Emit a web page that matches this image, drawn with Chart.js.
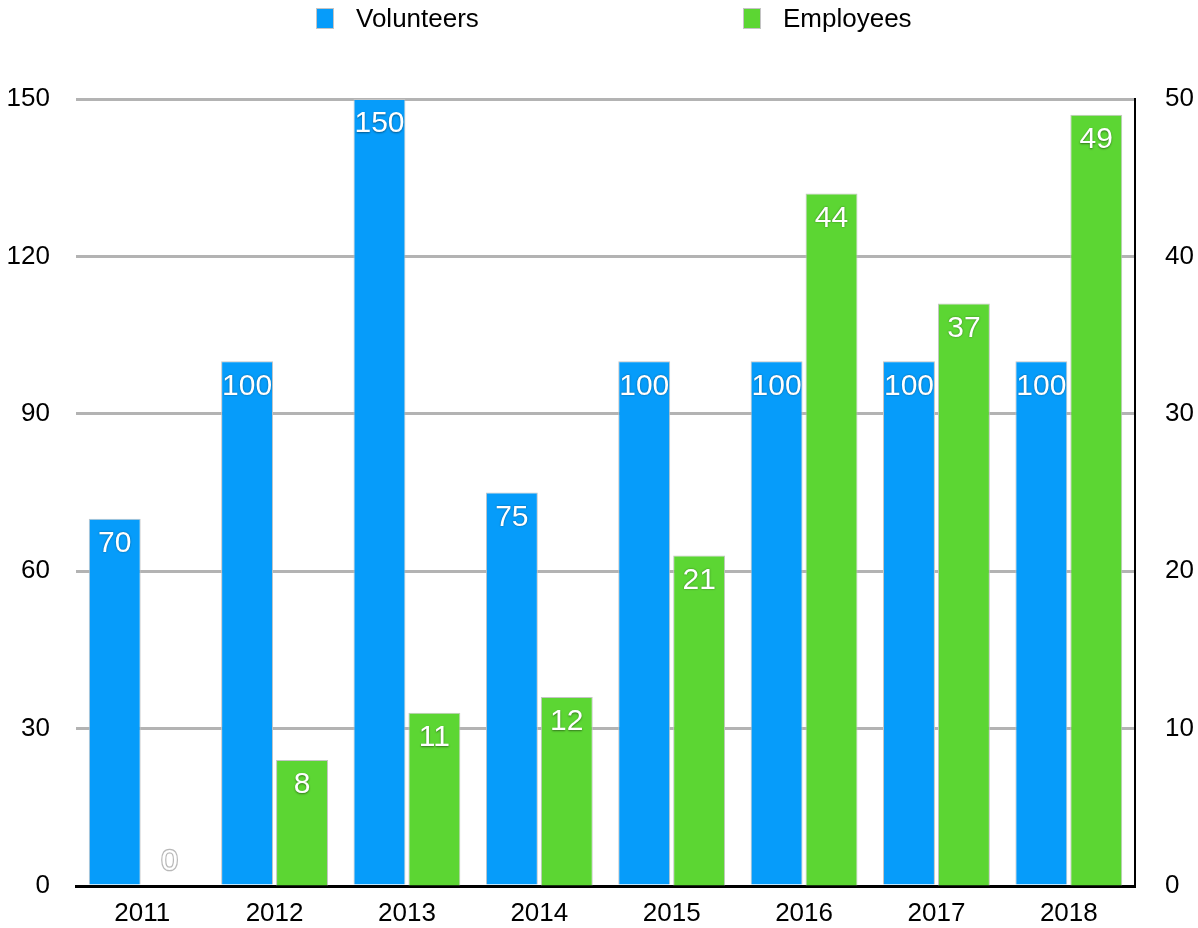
<!DOCTYPE html>
<html lang="en">
<head>
  <meta charset="UTF-8">
  <title>Volunteers and Employees</title>
  <style>
    body {
      margin: 0;
      background-color: #ffffff;
    }
    .wrap {
      width: 1198px;
      height: 928px;
    }
  </style>
</head>
<body>
  <div class="wrap">
    <canvas id="chartCanvas"></canvas>
  </div>

  <script src="https://cdn.jsdelivr.net/npm/chart.js"></script>
  <script>
    const years = ['2011', '2012', '2013', '2014', '2015', '2016', '2017', '2018'];
    const volunteers = [70, 100, 150, 75, 100, 100, 100, 100];
    const employees = [0, 8, 11, 12, 21, 44, 37, 49];
    const leftTicks = [0, 30, 60, 90, 120, 150];
    const rightTicks = [0, 10, 20, 30, 40, 50];

    const FONT = "'Liberation Sans', Helvetica, Arial, sans-serif";
    const BLUE = '#069cfa';
    const GREEN = '#5cd633';

    // white value labels inside the top of each bar
    const valueLabels = {
      id: 'valueLabels',
      afterDatasetsDraw(chart) {
        const ctx = chart.ctx;
        ctx.save();
        ctx.font = '30px ' + FONT;
        ctx.textAlign = 'center';
        ctx.textBaseline = 'middle';
        chart.data.datasets.forEach((ds, i) => {
          chart.getDatasetMeta(i).data.forEach((bar, j) => {
            const v = ds.data[j];
            if (v > 0) {
              ctx.shadowColor = 'rgba(0,0,0,0.45)';
              ctx.shadowBlur = 2;
              ctx.shadowOffsetY = 0.5;
              ctx.fillStyle = '#ffffff';
              ctx.fillText(String(v), bar.x, bar.y + 25);
            } else {
              ctx.shadowColor = 'transparent';
              ctx.lineWidth = 2.5;
              ctx.strokeStyle = '#b8b8b8';
              ctx.strokeText(String(v), bar.x, bar.base - 24);
              ctx.fillStyle = '#ffffff';
              ctx.fillText(String(v), bar.x, bar.base - 24);
            }
          });
        });
        ctx.restore();
      }
    };

    // legend with wide spacing between the two entries
    const spreadLegend = {
      id: 'spreadLegend',
      afterDraw(chart) {
        const ctx = chart.ctx;
        const area = chart.chartArea;
        const mid = (area.left + area.right) / 2;
        const offsets = [-290, 137];
        ctx.save();
        ctx.font = '26px ' + FONT;
        ctx.textBaseline = 'middle';
        ctx.textAlign = 'left';
        chart.data.datasets.forEach((ds, i) => {
          const x = Math.round(mid + offsets[i]);
          ctx.fillStyle = ds.backgroundColor;
          ctx.fillRect(x, 8, 18, 21);
          ctx.strokeStyle = '#c4c4c4';
          ctx.lineWidth = 1;
          ctx.strokeRect(x + 0.5, 8.5, 17, 20);
          ctx.fillStyle = '#000000';
          ctx.fillText(ds.label, x + 40, 20);
        });
        ctx.restore();
      }
    };

    // fixed side widths; drop the label half-height padding at top/bottom
    function fixSide(width) {
      return axis => {
        axis.width = width;
        axis.paddingTop = 0;
        axis.paddingBottom = 0;
      };
    }

    const ctx = document.getElementById('chartCanvas').getContext('2d');
    new Chart(ctx, {
      type: 'bar',
      data: {
        labels: years,
        datasets: [
          {
            label: 'Volunteers',
            data: volunteers,
            yAxisID: 'y',
            backgroundColor: BLUE,
            borderColor: '#c4c4c4',
            borderWidth: 1
          },
          {
            label: 'Employees',
            data: employees,
            yAxisID: 'y1',
            backgroundColor: GREEN,
            borderColor: '#c4c4c4',
            borderWidth: 1
          }
        ]
      },
      options: {
        responsive: true,
        maintainAspectRatio: false,
        animation: false,
        categoryPercentage: 0.83,
        barPercentage: 0.945,
        layout: {
          padding: { top: 99, left: 0, right: 0, bottom: 0 }
        },
        plugins: {
          legend: { display: false },
          tooltip: { enabled: false }
        },
        scales: {
          x: {
            grid: { drawOnChartArea: false, drawTicks: false },
            border: { display: true, color: '#000000', width: 3 },
            ticks: {
              padding: 12,
              color: '#000000',
              font: { family: FONT, size: 26 }
            },
            afterFit(axis) { axis.height = 42; }
          },
          y: {
            position: 'left',
            min: 0,
            max: 150,
            afterBuildTicks(axis) {
              axis.ticks = leftTicks.map(v => ({ value: v }));
            },
            grid: { color: '#b3b3b3', lineWidth: 3, drawTicks: false },
            border: { display: false },
            ticks: {
              padding: 26,
              color: '#000000',
              font: { family: FONT, size: 26 }
            },
            afterFit: fixSide(76)
          },
          y1: {
            position: 'right',
            min: 0,
            max: 50,
            afterBuildTicks(axis) {
              axis.ticks = rightTicks.map(v => ({ value: v }));
            },
            grid: { drawOnChartArea: false, drawTicks: false },
            border: { display: true, color: '#000000', width: 2 },
            ticks: {
              padding: 30,
              color: '#000000',
              font: { family: FONT, size: 26 }
            },
            afterFit: fixSide(63)
          }
        }
      },
      plugins: [valueLabels, spreadLegend]
    });
  </script>
</body>
</html>
